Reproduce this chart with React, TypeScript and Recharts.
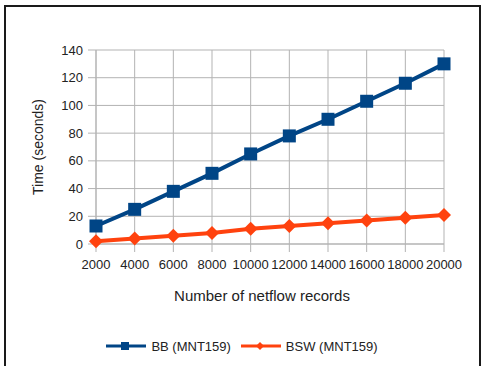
import { LineChart, Line, XAxis, YAxis, CartesianGrid, Legend } from 'recharts';

const records = ['2000', '4000', '6000', '8000', '10000', '12000', '14000', '16000', '18000', '20000'];
const bbTimes = [13, 25, 38, 51, 65, 78, 90, 103, 116, 130];
const bswTimes = [2, 4, 6, 8, 11, 13, 15, 17, 19, 21];
const yTicks = [0, 20, 40, 60, 80, 100, 120, 140];

const BLUE = '#004586';
const ORANGE = '#ff420e';
const GRID = '#b3b3b3';
const TEXT = '#222';
const FONT = '"Liberation Sans", Arial, sans-serif';

const data = records.map((r, i) => ({ records: r, bb: bbTimes[i], bsw: bswTimes[i] }));

const SquareDot = (props: any) => {
  const { cx, cy } = props;
  if (cx == null || cy == null) return null;
  return <rect x={cx - 6.5} y={cy - 6.5} width={13} height={13} fill={BLUE} />;
};

const DiamondDot = (props: any) => {
  const { cx, cy } = props;
  if (cx == null || cy == null) return null;
  const r = 7;
  return <polygon points={`${cx},${cy - r} ${cx + r},${cy} ${cx},${cy + r} ${cx - r},${cy}`} fill={ORANGE} />;
};

const LegendBox = () => (
  <div style={{ height: 62, paddingTop: 34, boxSizing: 'border-box', display: 'flex', justifyContent: 'center', fontFamily: FONT, fontSize: 13, color: TEXT }}>
    <div style={{ display: 'flex', alignItems: 'center', height: 16 }}>
      <svg width={40} height={12}>
        <line x1={0} y1={6} x2={40} y2={6} stroke={BLUE} strokeWidth={3} />
        <rect x={15} y={2} width={8} height={8} fill={BLUE} />
      </svg>
      <span style={{ marginLeft: 5, marginRight: 10 }}>BB (MNT159)</span>
      <svg width={40} height={12}>
        <line x1={0} y1={6} x2={40} y2={6} stroke={ORANGE} strokeWidth={3} />
        <polygon points="19,2 23,6 19,10 15,6" fill={ORANGE} />
      </svg>
      <span style={{ marginLeft: 5 }}>BSW (MNT159)</span>
    </div>
  </div>
);

export default function App() {
  return (
    <div style={{ position: 'absolute', left: 0, top: 0, width: 484, height: 366, background: '#fff', overflow: 'hidden' }}>
      <div style={{ position: 'absolute', left: 4, top: 5, width: 477, height: 400, border: '2px solid #1a1a1a', boxSizing: 'border-box' }} />
      <div style={{ position: 'absolute', left: 0, top: 0 }}>
        <LineChart width={484} height={366} data={data} margin={{ top: 50, right: 40, left: 40, bottom: 0 }}>
          <CartesianGrid stroke={GRID} strokeWidth={1} />
          <XAxis
            dataKey="records"
            type="category"
            interval={0}
            tickSize={8}
            tickMargin={8}
            height={60}
            tick={{ fontSize: 13, fill: TEXT, fontFamily: FONT }}
            tickLine={{ stroke: GRID }}
            axisLine={{ stroke: GRID }}
            label={{
              content: () => (
                <text x={262} y={301} textAnchor="middle" fontSize={15} fill={TEXT} fontFamily={FONT}>
                  Number of netflow records
                </text>
              ),
            }}
          />
          <YAxis
            domain={[0, 140]}
            ticks={yTicks}
            width={56}
            tickSize={8}
            tickMargin={5}
            tick={{ fontSize: 13, fill: TEXT, fontFamily: FONT }}
            tickLine={{ stroke: GRID }}
            axisLine={{ stroke: GRID }}
            label={{
              content: () => (
                <text x={43} y={147} transform="rotate(-90 43 147)" textAnchor="middle" fontSize={14} fill={TEXT} fontFamily={FONT}>
                  Time (seconds)
                </text>
              ),
            }}
          />
          <Legend verticalAlign="bottom" height={62} content={<LegendBox />} />
          <Line dataKey="bb" name="BB (MNT159)" stroke={BLUE} strokeWidth={4} dot={<SquareDot />} isAnimationActive={false} />
          <Line dataKey="bsw" name="BSW (MNT159)" stroke={ORANGE} strokeWidth={4} dot={<DiamondDot />} isAnimationActive={false} />
        </LineChart>
      </div>
    </div>
  );
}
